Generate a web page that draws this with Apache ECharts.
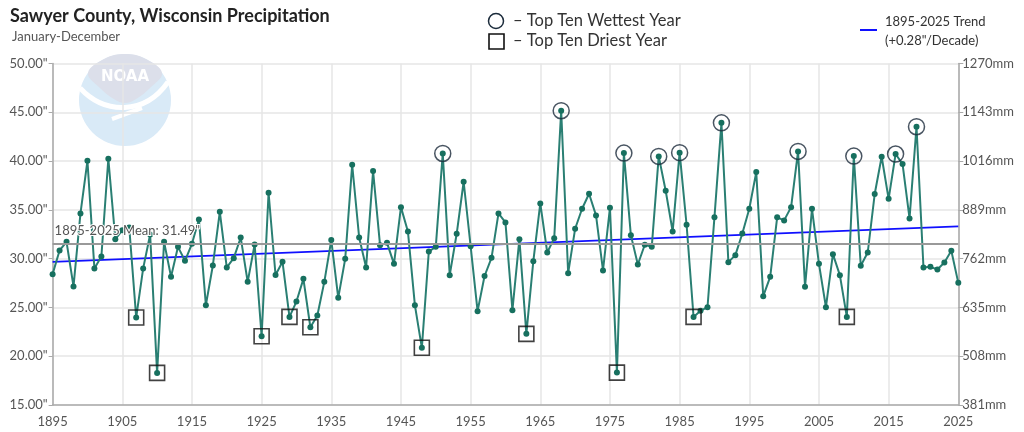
<!DOCTYPE html>
<html><head><meta charset="utf-8">
<script src="https://cdn.jsdelivr.net/npm/echarts@6/dist/echarts.min.js"></script>
<style>html,body{margin:0;padding:0;background:#fff}#c{width:1024px;height:432px}</style>
</head><body><div id="c"></div>
<script>
var startYear = 1895, endYear = 2025;
var years = [];
for (var y = startYear; y <= endYear; y++) years.push(String(y));
var precip = [28.41, 30.84, 31.72, 27.15, 34.63, 40.03, 29.0, 30.22, 40.24, 32.0,
  32.9, 33.2, 23.97, 29.0, 32.48, 18.29, 31.72, 28.14, 31.21, 29.78,
  31.52, 34.02, 25.23, 29.3, 34.8, 29.1, 30.05, 32.17, 27.62, 31.45,
  22.05, 36.75, 28.32, 29.68, 24.03, 25.6, 27.93, 22.97, 24.17, 27.62,
  31.9, 25.98, 29.98, 39.62, 32.17, 29.1, 38.97, 31.38, 31.62, 29.47,
  35.28, 32.79, 25.23, 20.86, 30.73, 31.21, 40.78, 28.31, 32.55, 37.88,
  31.28, 24.62, 28.22, 30.08, 34.63, 33.71, 24.72, 32.0, 22.29, 29.74,
  35.66, 30.63, 32.1, 45.16, 28.51, 33.06, 35.11, 36.65, 34.43, 28.79,
  35.21, 18.32, 40.82, 32.41, 29.4, 31.42, 31.21, 40.48, 36.96, 32.79,
  40.86, 33.47, 24.03, 24.65, 25.02, 34.25, 43.92, 29.64, 30.36, 32.58,
  35.11, 38.87, 26.15, 28.14, 34.23, 33.92, 35.28, 40.99, 27.11, 35.11,
  29.47, 25.03, 30.46, 28.31, 24.03, 40.51, 29.27, 30.63, 36.62, 40.44,
  36.13, 40.72, 39.69, 34.12, 43.52, 29.1, 29.16, 28.89, 29.61, 30.8,
  27.52];
var wetYears = [1951, 1968, 1977, 1982, 1985, 1991, 2002, 2010, 2016, 2019];
var dryYears = [1907, 1910, 1925, 1929, 1932, 1948, 1963, 1976, 1987, 2009];
var meanValue = 31.49;
var trendStart = 29.67, trendEnd = 33.31;
var leftTicks = {min: 15, max: 50, step: 5};
var rightTicks = {min: 381, max: 1270, step: 127};

function marks(list) {
  return list.map(function (yr) { var i = yr - startYear; return [i, precip[i]]; });
}
var FONT = 'Lato';
var chart = echarts.init(document.getElementById('c'));
chart.setOption({
  animation: false,
  textStyle: {fontFamily: FONT},
  grid: {left: 52.6, right: 65.7, top: 63.5, bottom: 27},
  title: [
    {text: 'Sawyer County, Wisconsin Precipitation', left: 5, top: 2,
     textStyle: {fontFamily: FONT, fontSize: 18, fontWeight: 'bold', color: '#222'}},
    {text: 'January-December', left: 7, top: 25,
     textStyle: {fontFamily: FONT, fontSize: 13, fontWeight: 'normal', color: '#555'}}
  ],
  xAxis: {
    type: 'category', data: years, boundaryGap: false,
    axisLine: {lineStyle: {color: '#aaa', width: 1.5}},
    axisTick: {show: false},
    axisLabel: {interval: 9, color: '#555', fontSize: 13, margin: 10},
    splitLine: {show: true, interval: 9, lineStyle: {color: '#e6e6e6', width: 1.5}}
  },
  yAxis: [
    {type: 'value', min: leftTicks.min, max: leftTicks.max, interval: leftTicks.step,
     axisLine: {show: true, lineStyle: {color: '#aaa', width: 1.5}},
     axisTick: {show: true, length: 4, lineStyle: {color: '#aaa'}},
     axisLabel: {color: '#555', fontSize: 13, margin: 5, formatter: function (v) { return v.toFixed(2) + '"'; }},
     splitLine: {lineStyle: {color: '#e6e6e6', width: 1.5}}},
    {type: 'value', min: rightTicks.min, max: rightTicks.max, interval: rightTicks.step, position: 'right',
     axisLine: {show: true, lineStyle: {color: '#aaa', width: 1.5}},
     axisTick: {show: true, length: 5, lineStyle: {color: '#aaa'}},
     axisLabel: {color: '#555', fontSize: 13, margin: 4, formatter: function (v) { return String(v) + 'mm'; }},
     splitLine: {show: false}}
  ],
  series: [
    {type: 'line', data: precip, yAxisIndex: 0, z: 3,
     lineStyle: {color: '#2a7f73', width: 2},
     symbol: 'circle', symbolSize: 6, showSymbol: true, showAllSymbol: true,
     itemStyle: {color: '#17705f'},
     markLine: {
       silent: true, symbol: 'none', z: 2,
       data: [
         [{coord: [0, trendStart]}, {coord: [years.length - 1, trendEnd]}]
       ],
       lineStyle: {color: '#1010ff', width: 1.8, type: 'solid'},
       label: {show: false}
     }},
    {type: 'line', data: [], yAxisIndex: 0, z: 1,
     markLine: {
       silent: true, symbol: 'none',
       data: [{yAxis: meanValue}],
       lineStyle: {color: '#999', width: 2, type: 'solid'},
       label: {show: true, position: 'insideStartTop', formatter: '1895-2025 Mean: 31.49"',
               color: '#555', fontSize: 13, fontFamily: FONT, distance: [2, 7],
               textBorderColor: '#fff', textBorderWidth: 2}
     }},
    {type: 'scatter', data: marks(wetYears), symbol: 'circle', symbolSize: 16, z: 4,
     itemStyle: {color: 'rgba(0,0,0,0)', borderColor: '#1b2b3b', borderWidth: 1.5}},
    {type: 'scatter', data: marks(dryYears), symbol: 'rect', symbolSize: 15, z: 4,
     itemStyle: {color: 'rgba(0,0,0,0)', borderColor: '#111', borderWidth: 1.6}}
  ],
  graphic: [
    {type: 'group', z: -10, silent: true, children: [
      {type: 'circle', shape: {cx: 125, cy: 100, r: 46}, style: {fill: '#d9eaf7'}},
      {type: 'polygon', shape: {smooth: 0.4, points: [[88,73],[104,59],[125,54],[146,59],[162,73],[150,88],[136,99],[125,103],[114,99],[100,88]]},
       style: {fill: '#dcdfea'}},
      {type: 'text', style: {text: 'NOAA', x: 125, y: 77, align: 'center', verticalAlign: 'middle',
        fill: '#fff', font: 'bold 15px "DejaVu Sans"'}},
      {type: 'bezierCurve', shape: {x1: 80, y1: 88, cpx1: 105, cpy1: 115, cpx2: 145, cpy2: 115, x2: 168, y2: 82},
       style: {stroke: '#fff', lineWidth: 5, fill: 'none'}},
      {type: 'line', shape: {x1: 112, y1: 119, x2: 142, y2: 108}, style: {stroke: '#fff', lineWidth: 4}}
    ]},
    {type: 'circle', shape: {cx: 496, cy: 21, r: 7.5}, style: {fill: 'none', stroke: '#1b2b3b', lineWidth: 1.5}},
    {type: 'text', style: {text: '– Top Ten Wettest Year', x: 513, y: 21, verticalAlign: 'middle', fill: '#333', font: '16.5px ' + FONT}},
    {type: 'rect', shape: {x: 489, y: 34, width: 15, height: 15}, style: {fill: 'none', stroke: '#111', lineWidth: 1.6}},
    {type: 'text', style: {text: '– Top Ten Driest Year', x: 513, y: 41, verticalAlign: 'middle', fill: '#333', font: '16.5px ' + FONT}},
    {type: 'line', shape: {x1: 860, y1: 30, x2: 877, y2: 30}, style: {stroke: '#1010ff', lineWidth: 2}},
    {type: 'text', style: {text: '1895-2025 Trend', x: 885, y: 22, verticalAlign: 'middle', fill: '#333', font: '13px ' + FONT}},
    {type: 'text', style: {text: '(+0.28"/Decade)', x: 885, y: 41, verticalAlign: 'middle', fill: '#333', font: '13px ' + FONT}}
  ]
});
</script></body></html>
